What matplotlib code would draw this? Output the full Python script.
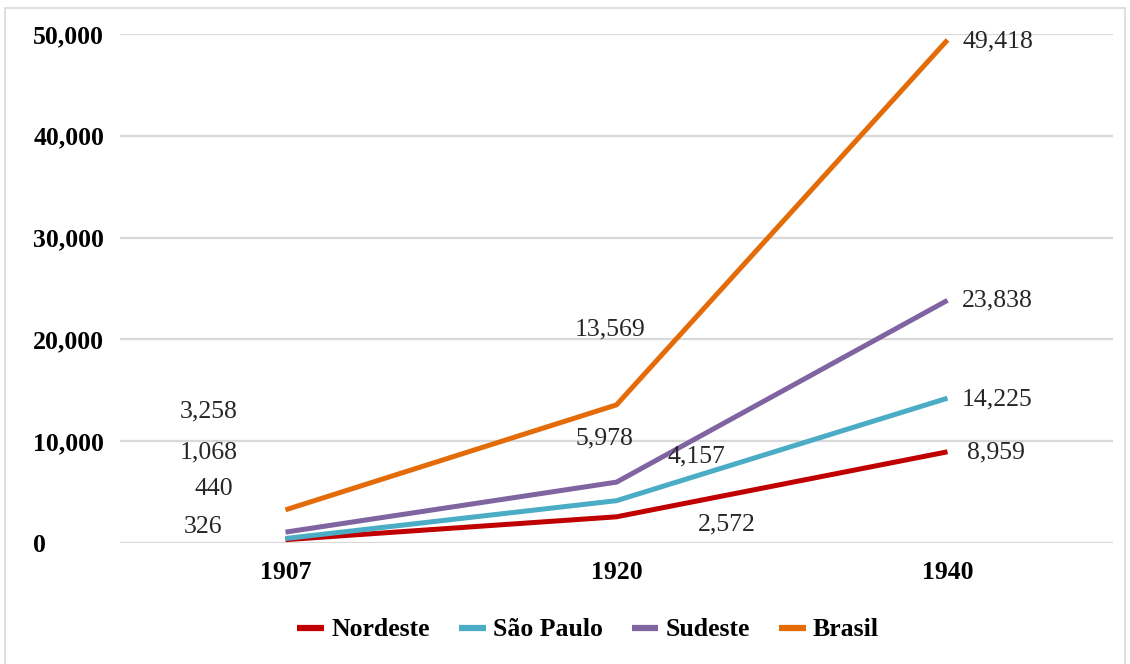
import matplotlib
matplotlib.use("Agg")
import matplotlib.pyplot as plt
from matplotlib.patches import Rectangle

# Data
years = ["1907", "1920", "1940"]
nordeste = [326, 2572, 8959]
sao_paulo = [440, 4157, 14225]
sudeste = [1068, 5978, 23838]
brasil = [3258, 13569, 49418]
series_names = ["Nordeste", "São Paulo", "Sudeste", "Brasil"]
y_ticks = [0, 10000, 20000, 30000, 40000, 50000]

colors = {"Nordeste": "#C00000", "São Paulo": "#4BACC6",
          "Sudeste": "#8064A2", "Brasil": "#E36C09"}

# label offsets in pixels (dx, dy) for each series and year
label_offsets = {
    "Nordeste": [(-82, 13), (110, -8), (48, -1)],
    "São Paulo": [(-72, 50), (80, 44), (50, -1)],
    "Sudeste": [(-77, 80), (-12, 44), (50, 0)],
    "Brasil": [(-77, 98), (-6, 75), (50, -2)],
}

plt.rcParams["font.family"] = ["Liberation Serif", "DejaVu Serif"]
FS = 18.5

W, H = 1130, 664
fig = plt.figure(figsize=(W / 100, H / 100), dpi=100)
ax = fig.add_axes([120 / W, 1 - 543 / H, (1113 - 120) / W, (543 - 34) / H])

# outer frame
fig.patches.append(Rectangle((5 / W, -0.05), 1120 / W, 1.05 - 8 / H,
                             transform=fig.transFigure, fill=False,
                             edgecolor="#D9D9D9", linewidth=1.2))

x = list(range(len(years)))
data = {"Nordeste": nordeste, "São Paulo": sao_paulo,
        "Sudeste": sudeste, "Brasil": brasil}

for name in series_names:
    vals = data[name]
    ax.plot(x, vals, color=colors[name], linewidth=3.6, label=name,
            solid_capstyle="butt", clip_on=False, zorder=3)
    for i, v in enumerate(vals):
        dx, dy = label_offsets[name][i]
        ax.annotate(f"{v:,}", xy=(i, v), xytext=(dx, dy),
                    textcoords="offset pixels", ha="center", va="center",
                    fontsize=FS, color="#262626", zorder=4)

ax.set_xlim(-0.5, 2.5)
ax.set_ylim(0, 50000)
ax.set_yticks(y_ticks)
ax.set_yticklabels([f"{t:,}" for t in y_ticks], fontsize=FS, fontweight="bold")
ax.set_xticks(x)
ax.set_xticklabels(years, fontsize=FS, fontweight="bold")
for lab in ax.get_yticklabels():
    lab.set_horizontalalignment("left")
ax.tick_params(axis="y", length=0, pad=62.5)
ax.tick_params(axis="x", length=0, pad=13)

ax.grid(axis="y", color="#D9D9D9", linewidth=1.6)
ax.set_axisbelow(True)
for s in ["top", "right", "left", "bottom"]:
    ax.spines[s].set_visible(False)

leg = fig.legend(loc="center", bbox_to_anchor=(588 / W, 1 - 630 / H),
                 ncol=4, frameon=False, handlelength=1.05, handletextpad=0.27,
                 columnspacing=1.13, prop={"size": FS, "weight": "bold"})
for h in leg.get_lines():
    h.set_linewidth(4.5)

fig.savefig("out.png", dpi=100)
